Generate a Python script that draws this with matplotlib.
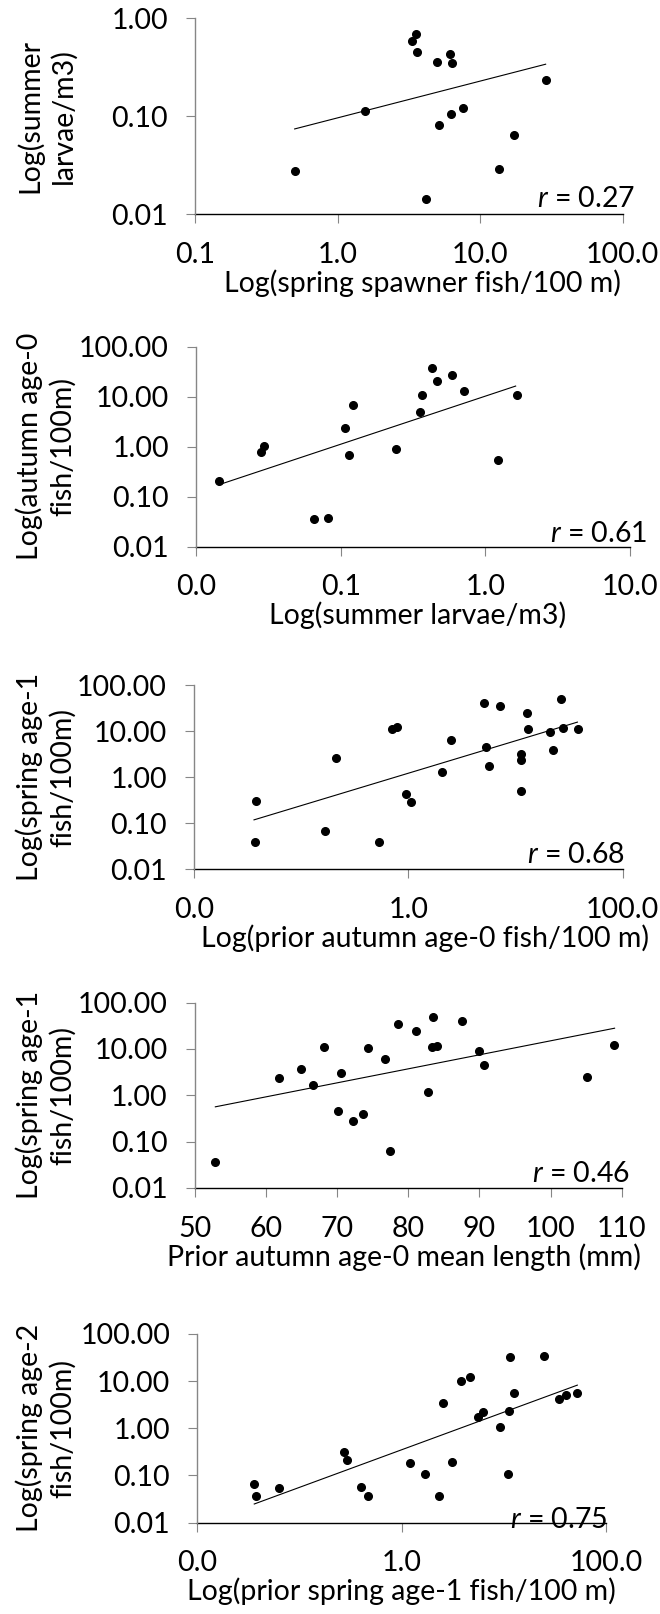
import matplotlib
matplotlib.use("Agg")
import matplotlib.pyplot as plt
from matplotlib.ticker import FixedLocator, FixedFormatter, NullLocator

plt.rcParams['font.family'] = ['Lato', 'DejaVu Sans']
plt.rcParams['mathtext.fontset'] = 'custom'
plt.rcParams['mathtext.it'] = 'Lato:italic'
plt.rcParams['mathtext.rm'] = 'Lato'

# ---------------- data ----------------
p1_x = [0.50, 1.57, 3.33, 3.55, 3.61, 4.20, 5.01, 5.18, 6.15, 6.35, 6.25, 7.59, 13.6, 17.3, 28.8]
p1_y = [0.0277, 0.1125, 0.587, 0.698, 0.457, 0.0142, 0.358, 0.081, 0.429, 0.347, 0.105, 0.121, 0.029, 0.0645, 0.235]
p1_fit_x = [0.50, 28.8]
p1_fit_y = [0.0743, 0.34]

p2_x = [0.0144, 0.028, 0.0295, 0.0655, 0.0822, 0.107, 0.114, 0.121, 0.240, 0.353, 0.365, 0.430, 0.464, 0.591, 0.708, 1.22, 1.65]
p2_y = [0.205, 0.769, 1.05, 0.0359, 0.0376, 2.37, 0.69, 6.75, 0.90, 4.97, 10.9, 37.3, 20.5, 27.4, 12.7, 0.54, 10.9]
p2_fit_x = [0.0144, 1.62]
p2_fit_y = [0.173, 16.3]

p3_x = [0.0368, 0.0382, 0.168, 0.210, 0.536, 0.709, 0.778, 0.944, 1.07, 2.06, 2.48, 5.12, 5.35, 5.70, 7.12,
        11.3, 11.3, 11.3, 12.8, 13.1, 21.1, 22.5, 26.6, 27.8, 38.0]
p3_y = [0.0394, 0.30, 0.0658, 2.58, 0.0381, 11.0, 12.2, 0.419, 0.286, 1.29, 6.40, 40.1, 4.60, 1.71, 34.5,
        3.20, 2.37, 0.485, 24.8, 11.0, 9.36, 3.84, 50.6, 11.8, 11.0]
p3_fit_x = [0.0363, 37.8]
p3_fit_y = [0.117, 15.6]

p4_x = [52.9, 61.8, 65.0, 66.6, 68.2, 70.2, 70.5, 72.3, 73.7, 74.3, 76.8, 77.5, 78.6, 81.1, 82.8, 83.4,
        83.5, 84.1, 87.5, 90.0, 90.7, 105.1, 108.9]
p4_y = [0.0362, 2.33, 3.71, 1.68, 11.0, 0.455, 3.09, 0.272, 0.392, 10.5, 5.99, 0.0625, 34.5, 24.4, 1.20, 11.0,
        49.7, 11.4, 39.4, 9.21, 4.52, 2.45, 12.2]
p4_fit_x = [52.9, 109.0]
p4_fit_y = [0.563, 27.9]

p5_x = [0.0359, 0.0373, 0.0635, 0.275, 0.290, 0.397, 0.472, 1.22, 1.69, 2.34, 2.54, 3.13, 3.84, 4.63, 5.62,
        6.21, 9.10, 11.1, 11.2, 11.5, 12.5, 24.9, 34.9, 40.9, 51.6]
p5_y = [0.0648, 0.0365, 0.0532, 0.311, 0.214, 0.0558, 0.0365, 0.179, 0.107, 0.0365, 3.51, 0.188, 10.2, 12.4, 1.74,
        2.18, 1.08, 0.107, 2.29, 32.5, 5.55, 34.1, 4.20, 5.02, 5.55]
p5_fit_x = [0.0361, 52.4]
p5_fit_y = [0.0247, 8.22]

r_values = ["0.27", "0.61", "0.68", "0.46", "0.75"]

x_labels = ["Log(spring spawner fish/100 m)",
            "Log(summer larvae/m3)",
            "Log(prior autumn age-0 fish/100 m)",
            "Prior autumn age-0 mean length (mm)",
            "Log(prior spring age-1 fish/100 m)"]
y_labels = ["Log(summer\nlarvae/m3)",
            "Log(autumn age-0\nfish/100m)",
            "Log(spring age-1\nfish/100m)",
            "Log(spring age-1\nfish/100m)",
            "Log(spring age-2\nfish/100m)"]

x_ticks = [[0.1, 1, 10, 100], [0.01, 0.1, 1, 10], [0.01, 1, 100], [50, 60, 70, 80, 90, 100, 110], [0.01, 1, 100]]
x_ticklabels = [["0.1", "1.0", "10.0", "100.0"], ["0.0", "0.1", "1.0", "10.0"], ["0.0", "1.0", "100.0"],
                ["50", "60", "70", "80", "90", "100", "110"], ["0.0", "1.0", "100.0"]]
y_ticks_small = [0.01, 0.1, 1]
y_ticklabels_small = ["0.01", "0.10", "1.00"]
y_ticks_big = [0.01, 0.1, 1, 10, 100]
y_ticklabels_big = ["0.01", "0.10", "1.00", "10.00", "100.00"]

# ---------------- layout (pixels) ----------------
W, H = 660, 1614
fig = plt.figure(figsize=(W / 100, H / 100), dpi=100)

# left, right, top, bottom in pixels
boxes = [(195, 622.7, 18.3, 214.3),
         (196, 630, 346.7, 546.6),
         (194, 622.7, 685, 869),
         (194.7, 621.7, 1002.5, 1188),
         (197.3, 606, 1334, 1522.5)]
xlabel_cx = [422, 418, 425, 404, 401]
r_pos = [(635, 207), (647, 541.7), (625, 862.7), (630, 1181.7), (607, 1528)]

data = [(p1_x, p1_y, p1_fit_x, p1_fit_y), (p2_x, p2_y, p2_fit_x, p2_fit_y), (p3_x, p3_y, p3_fit_x, p3_fit_y),
        (p4_x, p4_y, p4_fit_x, p4_fit_y), (p5_x, p5_y, p5_fit_x, p5_fit_y)]

FS = 20.5
GRAY = '#868686'

for i in range(5):
    l, r, t, b = boxes[i]
    ax = fig.add_axes([l / W, 1 - b / H, (r - l) / W, (b - t) / H])
    xs, ys, fx, fy = data[i]
    ax.plot(fx, fy, color='black', lw=0.8, zorder=3)
    ax.plot(xs, ys, 'o', color='black', ms=5.5, mec='black', zorder=4, clip_on=False)
    ax.set_yscale('log')
    if i != 3:
        ax.set_xscale('log')
    ax.set_xlim(x_ticks[i][0], x_ticks[i][-1])
    if i == 0:
        ax.set_ylim(0.01, 1)
        ax.yaxis.set_major_locator(FixedLocator(y_ticks_small))
        ax.yaxis.set_major_formatter(FixedFormatter(y_ticklabels_small))
    else:
        ax.set_ylim(0.01, 100)
        ax.yaxis.set_major_locator(FixedLocator(y_ticks_big))
        ax.yaxis.set_major_formatter(FixedFormatter(y_ticklabels_big))
    ax.yaxis.set_minor_locator(NullLocator())
    ax.xaxis.set_major_locator(FixedLocator(x_ticks[i]))
    ax.xaxis.set_major_formatter(FixedFormatter(x_ticklabels[i]))
    ax.xaxis.set_minor_locator(NullLocator())
    ax.patch.set_alpha(0)
    for s in ['top', 'right']:
        ax.spines[s].set_visible(False)
    ax.spines['left'].set_color(GRAY)
    ax.spines['left'].set_linewidth(1.0)
    ax.spines['bottom'].set_color('black')
    ax.spines['bottom'].set_linewidth(1.0)
    ax.spines['bottom'].set_zorder(2)
    ax.tick_params(axis='both', direction='out', length=6.5, width=0.8, color=GRAY,
                   labelsize=FS, labelcolor='black')
    ax.tick_params(axis='x', pad=13.5)
    ax.tick_params(axis='y', pad=13.0)

    # x label
    fig.text(xlabel_cx[i] / W, 1 - (b + 55) / H, x_labels[i], ha='center', va='top', fontsize=FS)
    # y label
    fig.text(46 / W, 1 - ((t + b) / 2) / H, y_labels[i], ha='center', va='center', rotation=90,
             fontsize=FS, multialignment='center', linespacing=1.3)
    # r annotation
    rx, ry = r_pos[i]
    fig.text(rx / W, 1 - ry / H, r"$r$ = " + r_values[i], ha='right', va='baseline', fontsize=FS)

fig.savefig("out.png", dpi=100)
